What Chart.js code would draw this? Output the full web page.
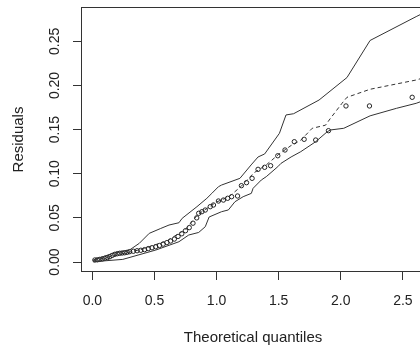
<!DOCTYPE html>
<html>
<head>
<meta charset="utf-8">
<script src="https://cdn.jsdelivr.net/npm/chart.js@4.4.0/dist/chart.umd.min.js"></script>
<style>
  html, body { margin: 0; padding: 0; background: #fff; overflow: hidden; }
  #wrap { width: 420px; height: 345px; overflow: hidden; }
</style>
</head>
<body>
<div id="wrap"><canvas id="qqChart" width="430" height="345"></canvas></div>
<script>
// Tick labels
const xTicks = [0.0, 0.5, 1.0, 1.5, 2.0, 2.5];
const yTicks = [0.00, 0.05, 0.10, 0.15, 0.20, 0.25];

// Upper envelope (solid)
const upperX = [0.006, 0.166, 0.299, 0.378, 0.458, 0.55, 0.617, 0.697, 0.723, 0.842, 0.922, 0.962, 1.015, 1.04, 1.188, 1.278, 1.334, 1.387, 1.506, 1.559, 1.62, 1.825, 2.05, 2.236, 2.607, 2.65];
const upperY = [0.0023, 0.0099, 0.0136, 0.0212, 0.0325, 0.038, 0.0419, 0.0445, 0.0495, 0.0627, 0.0722, 0.0778, 0.0853, 0.0872, 0.0948, 0.11, 0.119, 0.1224, 0.1458, 0.1666, 0.168, 0.1835, 0.209, 0.251, 0.278, 0.281];

// Lower envelope (solid)
const lowerX = [0.006, 0.245, 0.511, 0.697, 0.776, 0.856, 0.909, 0.94, 1.04, 1.095, 1.148, 1.214, 1.28, 1.294, 1.36, 1.4, 1.493, 1.519, 1.6, 1.678, 1.798, 1.891, 1.917, 2.024, 2.236, 2.448, 2.607, 2.65];
const lowerY = [0.0003, 0.003, 0.0136, 0.023, 0.0306, 0.0335, 0.04, 0.051, 0.057, 0.059, 0.0683, 0.074, 0.0778, 0.0835, 0.0929, 0.0967, 0.108, 0.1118, 0.119, 0.125, 0.1363, 0.1476, 0.1496, 0.1515, 0.1656, 0.1741, 0.1798, 0.182];

// Median (dashed)
const medianX = [0.006, 0.2, 0.4, 0.6, 0.75, 0.85, 1.0, 1.1, 1.2, 1.3, 1.4, 1.5, 1.6, 1.678, 1.77, 1.877, 1.917, 2.01, 2.05, 2.236, 2.607, 2.65];
const medianY = [0.0015, 0.008, 0.0145, 0.024, 0.037, 0.054, 0.068, 0.074, 0.086, 0.101, 0.11, 0.122, 0.132, 0.138, 0.1515, 0.155, 0.1628, 0.1798, 0.1866, 0.1957, 0.2062, 0.208];

// Observed residuals (circles)
const pointX = [0.02, 0.04, 0.06, 0.08, 0.10, 0.12, 0.14, 0.16, 0.18, 0.20, 0.22, 0.24, 0.26, 0.28, 0.30, 0.33, 0.36, 0.39, 0.42, 0.45, 0.48, 0.51, 0.54, 0.57, 0.60, 0.63, 0.66, 0.69, 0.72, 0.75, 0.78, 0.81, 0.84, 0.856, 0.882, 0.909, 0.949, 0.975, 1.015, 1.055, 1.089, 1.121, 1.169, 1.2, 1.241, 1.286, 1.334, 1.387, 1.435, 1.493, 1.551, 1.626, 1.705, 1.798, 1.901, 2.042, 2.231, 2.575];
const pointY = [0.0023, 0.0025, 0.003, 0.0035, 0.0042, 0.005, 0.006, 0.0075, 0.0087, 0.0094, 0.0099, 0.0102, 0.0105, 0.011, 0.0117, 0.0122, 0.0128, 0.0133, 0.014, 0.0152, 0.0162, 0.0173, 0.0187, 0.0203, 0.022, 0.0238, 0.026, 0.029, 0.032, 0.0355, 0.039, 0.044, 0.050, 0.0552, 0.057, 0.0589, 0.0627, 0.0646, 0.0691, 0.0702, 0.0722, 0.074, 0.0748, 0.0865, 0.0899, 0.0948, 0.105, 0.1073, 0.1091, 0.1204, 0.1269, 0.1363, 0.139, 0.1382, 0.1488, 0.1768, 0.1768, 0.1866];

function toXY(xs, ys) {
  return xs.map((x, i) => ({ x: x, y: ys[i] }));
}

const FONT = "'Liberation Sans', Arial, sans-serif";
const INK = '#222222';

// Box round the plot region, like R's box()
const boxPlugin = {
  id: 'plotBox',
  afterDraw(chart) {
    const a = chart.chartArea;
    const ctx = chart.ctx;
    ctx.save();
    ctx.strokeStyle = '#333333';
    ctx.lineWidth = 1;
    ctx.strokeRect(Math.round(a.left) + 0.5, Math.round(a.top) + 0.5,
      Math.round(a.right - a.left) - 1, Math.round(a.bottom - a.top) - 1);
    ctx.restore();
  }
};

const lineStyle = {
  showLine: true,
  pointRadius: 0,
  borderWidth: 1,
  borderColor: '#333333',
  tension: 0,
  fill: false
};

new Chart(document.getElementById('qqChart'), {
  type: 'scatter',
  data: {
    datasets: [
      Object.assign({ label: 'upper', data: toXY(upperX, upperY) }, lineStyle),
      Object.assign({ label: 'lower', data: toXY(lowerX, lowerY) }, lineStyle),
      Object.assign({ label: 'median', data: toXY(medianX, medianY), borderDash: [4, 3] }, lineStyle),
      {
        label: 'residuals',
        data: toXY(pointX, pointY),
        pointStyle: 'circle',
        pointRadius: 2.2,
        pointBorderWidth: 0.9,
        borderColor: '#111111',
        backgroundColor: 'rgba(0,0,0,0)',
        showLine: false
      }
    ]
  },
  options: {
    responsive: false,
    animation: false,
    layout: { padding: { top: 7, left: 0, right: 1, bottom: 0 } },
    plugins: { legend: { display: false }, tooltip: { enabled: false } },
    scales: {
      x: {
        type: 'linear',
        min: -0.0916,
        max: 2.679,
        border: { display: false },
        grid: { drawOnChartArea: false, drawTicks: true, tickLength: 8, color: '#333333', lineWidth: 1 },
        afterBuildTicks: (scale) => { scale.ticks = xTicks.map(v => ({ value: v })); },
        afterFit: (scale) => {
          scale.height = 73;
          scale.paddingLeft = 0; scale.paddingRight = 0;
        },
        ticks: {
          padding: 14,
          color: INK,
          font: { family: FONT, size: 14, lineHeight: 1 },
          maxRotation: 0,
          callback: (v) => Number(v).toFixed(1)
        },
        title: {
          display: true,
          text: 'Theoretical quantiles',
          color: INK,
          font: { family: FONT, size: 15, lineHeight: 1 },
          padding: { top: 0, bottom: 0 }
        }
      },
      y: {
        type: 'linear',
        min: -0.0113,
        max: 0.2889,
        border: { display: false },
        grid: { drawOnChartArea: false, drawTicks: true, tickLength: 8, color: '#333333', lineWidth: 1 },
        afterBuildTicks: (scale) => { scale.ticks = yTicks.map(v => ({ value: v })); },
        afterFit: (scale) => {
          scale.width = 81;
          scale.paddingTop = 0; scale.paddingBottom = 0;
        },
        ticks: {
          padding: 4.4,
          crossAlign: 'center',
          minRotation: 90,
          maxRotation: 90,
          color: INK,
          font: { family: FONT, size: 14, lineHeight: 1 },
          callback: (v) => Number(v).toFixed(2)
        },
        title: {
          display: true,
          text: 'Residuals',
          color: INK,
          font: { family: FONT, size: 15, lineHeight: 1 },
          padding: { top: 11, bottom: 0 }
        }
      }
    }
  },
  plugins: [boxPlugin]
});
</script>
</body>
</html>
